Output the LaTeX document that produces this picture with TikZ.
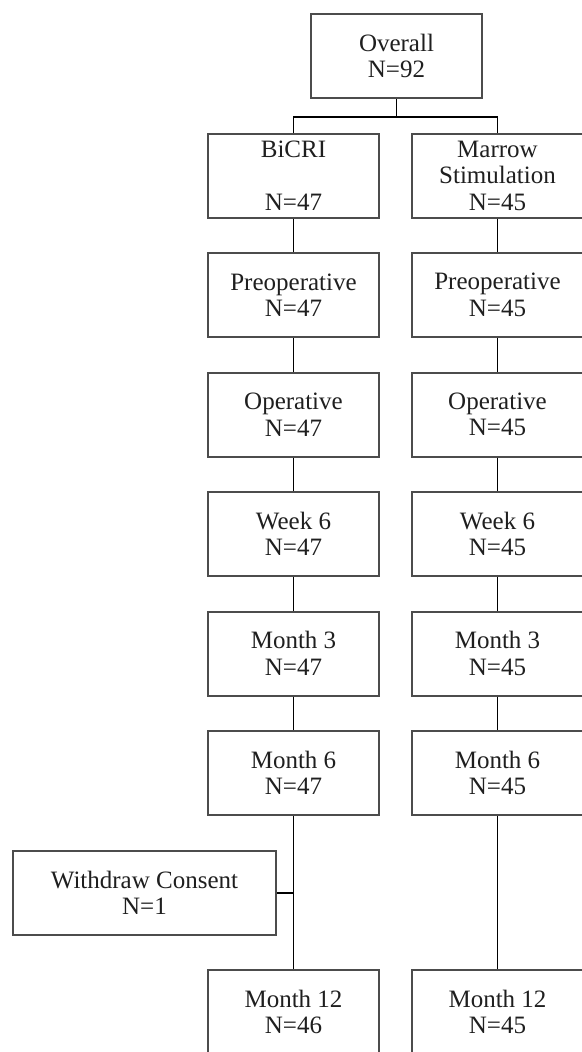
\documentclass[tikz,border=0pt]{standalone}
\usepackage{fontspec}
\setmainfont{Liberation Serif}
\begin{document}
\begin{tikzpicture}[x=1pt,y=-1pt,
  box/.style={draw=black!70, line width=2pt, rectangle, minimum width=171pt, minimum height=84pt,
    inner sep=0pt, align=center, font=\fontsize{25}{26.5}\selectfont, text=black!88},
  wide/.style={box, minimum width=263pt},
  link/.style={draw=black, line width=1.6pt}]
\useasboundingbox (0,0) rectangle (581,1052);
\fill[white] (0,0) rectangle (581,1052);
\node[box] (ov) at (396.5,56) {Overall\\N=92};
\node[box] (b0) at (293.5,175.5) {BiCRI\\ \\N=47};
\node[box] (m0) at (497.5,175.5) {Marrow\\Stimulation\\N=45};
\node[box] (b1) at (293.5,295) {Preoperative\\N=47};
\node[box] (m1) at (497.5,295) {Preoperative\\N=45};
\node[box] (b2) at (293.5,414.5) {Operative\\N=47};
\node[box] (m2) at (497.5,414.5) {Operative\\N=45};
\node[box] (b3) at (293.5,534) {Week 6\\N=47};
\node[box] (m3) at (497.5,534) {Week 6\\N=45};
\node[box] (b4) at (293.5,653.5) {Month 3\\N=47};
\node[box] (m4) at (497.5,653.5) {Month 3\\N=45};
\node[box] (b5) at (293.5,773) {Month 6\\N=47};
\node[box] (m5) at (497.5,773) {Month 6\\N=45};
\node[wide] (wd) at (144.5,893) {Withdraw Consent\\N=1};
\node[box] (b6) at (293.5,1012) {Month 12\\N=46};
\node[box] (m6) at (497.5,1012) {Month 12\\N=45};
\coordinate (split) at (396.5,117);
\draw[link] (ov.south) -- (split);
\draw[link] (b0.north) |- (split) -| (m0.north);
\foreach \i/\j in {0/1,1/2,2/3,3/4,4/5,5/6} {
  \draw[link] (b\i.south) -- (b\j.north);
  \draw[link] (m\i.south) -- (m\j.north);
}
\draw[link] (wd.east) -- (wd.east -| b5.south);
\end{tikzpicture}
\end{document}
